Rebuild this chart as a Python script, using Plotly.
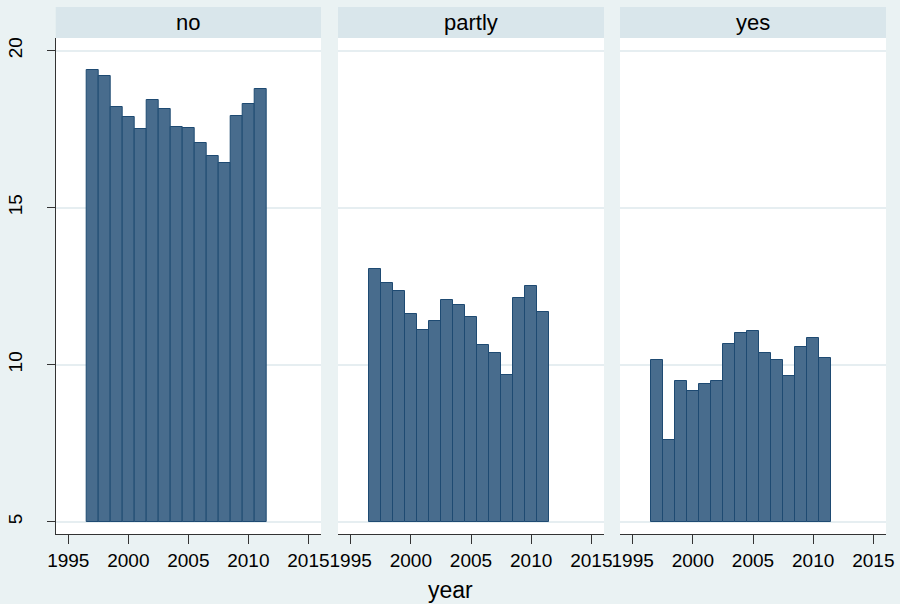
import plotly.graph_objects as go

years = list(range(1997, 2012))
panels = ["no", "partly", "yes"]
vals_no = [19.39, 19.20, 18.21, 17.87, 17.50, 18.42, 18.15, 17.56, 17.52, 17.07, 16.64, 16.41, 17.92, 18.29, 18.77]
vals_partly = [13.06, 12.61, 12.36, 11.60, 11.11, 11.38, 12.06, 11.91, 11.53, 10.64, 10.37, 9.67, 12.11, 12.50, 11.69]
vals_yes = [10.14, 7.61, 9.47, 9.15, 9.40, 9.48, 10.67, 11.00, 11.08, 10.36, 10.16, 9.64, 10.56, 10.84, 10.20]
series = [vals_no, vals_partly, vals_yes]
base_value = 5
x_ticks = [1995, 2000, 2005, 2010, 2015]
y_ticks = [5, 10, 15, 20]

W, H = 900, 604
BG = "#EAF2F3"
HEAD = "#D9E6EB"
FILL = "#486C8D"
EDGE = "#1E4A72"
FONT = "Liberation Sans, Arial, sans-serif"

# panel pixel boxes
px_x = [(55.7, 321.0), (338.0, 604.0), (620.0, 886.0)]
plot_top, plot_bot = 38.0, 534.0
head_top = 7.0

fig = go.Figure()
layout = dict(
    width=W, height=H,
    margin=dict(l=0, r=0, t=0, b=0, autoexpand=False),
    paper_bgcolor=BG, plot_bgcolor="white",
    showlegend=False,
    font=dict(family=FONT, color="black", size=19),
    bargap=0,
)
shapes = []
annotations = []
for i, (name, vals) in enumerate(zip(panels, series)):
    k = "" if i == 0 else str(i + 1)
    fig.add_trace(go.Bar(
        x=years, y=[v - base_value for v in vals], base=base_value, width=1,
        marker=dict(color=FILL, line=dict(color=EDGE, width=1)),
        xaxis="x" + k, yaxis="y" + k,
    ))
    x0, x1 = px_x[i]
    dom_x = [x0 / W, x1 / W]
    dom_y = [(H - plot_bot) / H, (H - plot_top) / H]
    layout["xaxis" + k] = dict(
        domain=dom_x, anchor="y" + k, range=[1993.95, 2016.05], automargin=False,
        tickvals=x_ticks, ticks="outside", ticklen=9, tickwidth=1.2, tickcolor="#333",
        showline=True, linecolor="#333", linewidth=1.2, showgrid=False, zeroline=False,
        tickfont=dict(size=19, family=FONT, color="black"),
    )
    ya = dict(
        domain=dom_y, anchor="x" + k, range=[4.61, 20.4], automargin=False,
        tickvals=y_ticks, showgrid=True, gridcolor="#E6EEF1", gridwidth=1.5, zeroline=False,
    )
    if i == 0:
        ya.update(ticks="outside", ticklen=8, tickwidth=1.2, tickcolor="#333",
                  showline=True, linecolor="#333", linewidth=1.2,
                  tickangle=-90, tickfont=dict(size=19, family=FONT, color="black"),
                  showticklabels=True, ticklabelstandoff=17)
    else:
        ya.update(showticklabels=False, showline=False, ticks="")
    layout["yaxis" + k] = ya
    shapes.append(dict(type="rect", xref="paper", yref="paper",
                       x0=dom_x[0], x1=dom_x[1], y0=(H - plot_top) / H, y1=(H - head_top) / H,
                       fillcolor=HEAD, line=dict(width=0), layer="below"))
    annotations.append(dict(text=name, xref="paper", yref="paper",
                            x=(dom_x[0] + dom_x[1]) / 2, y=(H - (head_top + plot_top) / 2) / H,
                            xanchor="center", yanchor="middle", showarrow=False,
                            font=dict(size=22, family=FONT, color="black")))

annotations.append(dict(text="year", xref="paper", yref="paper", x=0.5, y=(H - 590) / H,
                        xanchor="center", yanchor="middle", showarrow=False,
                        font=dict(size=23, family=FONT, color="black")))
layout["shapes"] = shapes
layout["annotations"] = annotations
fig.update_layout(**layout)
fig.write_html("out.html")
